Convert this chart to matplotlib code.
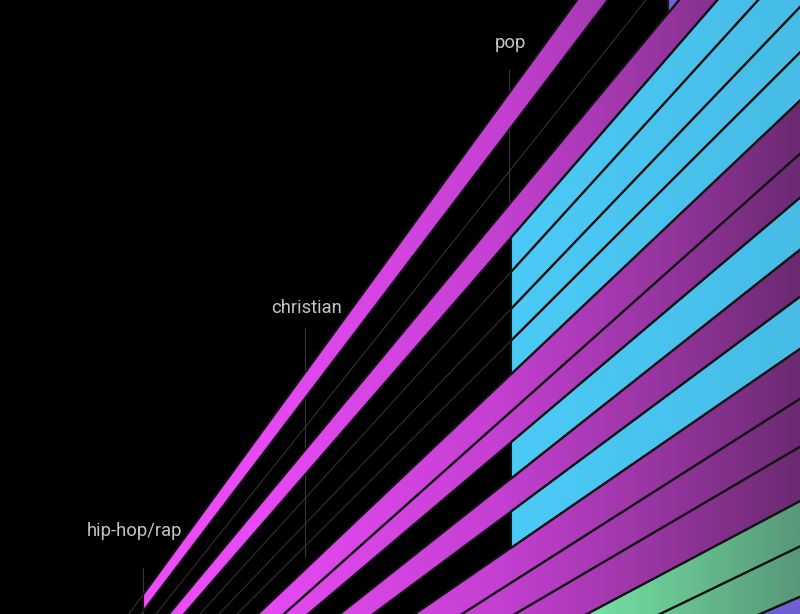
import numpy as np
import matplotlib.pyplot as plt
from matplotlib.patches import Polygon
from matplotlib.colors import LinearSegmentedColormap

W, H = 800, 614

# all band edges fan out from one point below the frame;
# each edge is given by where it crosses the bottom edge (y = 614)
fan_cx, fan_cy = -160, 1010
edge_x = [129, 141, 156, 169, 184, 200, 219, 237, 258, 284, 308, 340,
          373, 415, 462, 515, 587, 660, 760, 870]

# band i lies between edge i and edge i+1
band_hue = ['magenta', None, 'violet', 'magenta', 'cyan', 'cyan', 'cyan', 'cyan',
            'magenta', 'magenta', 'cyan', 'magenta', 'cyan', 'magenta', 'magenta',
            'magenta', 'green', 'green', 'violet']
band_start = [143, None, 668, -50, 511, 511, 511, 511, -50, -50, 511, -50, 511,
              -50, -50, -50, -50, -50, -50]

# genre markers
genres = ['hip-hop/rap', 'christian', 'pop']
genre_x = [143, 305, 509]
label_x = [135, 307, 510]
label_y = [531, 308, 43]
marker_top = [568, 328, 70]
marker_bot = [614, 557, 238]

hue_stops = {
    'magenta': [(0, '#f252ff'), (250, '#e84af5'), (500, '#c440d2'), (650, '#9a36a4'), (800, '#6c2a72')],
    'cyan': [(0, '#4dcdf9'), (500, '#4ccbf8'), (800, '#46bce6')],
    'green': [(0, '#80ecb4'), (600, '#74dea2'), (800, '#589878')],
    'violet': [(0, '#7e76ec'), (800, '#6c60d4')],
}
cmaps = {k: LinearSegmentedColormap.from_list(k, [(p / W, c) for p, c in v])
         for k, v in hue_stops.items()}


def edge_y(xb, x):
    slope = (H - fan_cy) / (xb - fan_cx)
    return H + slope * (np.asarray(x, dtype=float) - xb)


fig = plt.figure(figsize=(W / 100, H / 100), dpi=100, facecolor='black')
ax = fig.add_axes([0, 0, 1, 1])
ax.set_facecolor('black')
ax.axis('off')

# thin guide lines for every edge
for xb in edge_x:
    xx = np.array([fan_cx, 1000])
    ax.plot(xx, edge_y(xb, xx), color='#313131', lw=0.8, zorder=1)

# genre markers
for gx, t, b in zip(genre_x, marker_top, marker_bot):
    ax.plot([gx, gx], [t, b], color='#363636', lw=0.8, zorder=1)

grad = np.linspace(0, 1, 800).reshape(1, -1)
for i, hue in enumerate(band_hue):
    if hue is None:
        continue
    xs, xe = band_start[i], 1000
    up, lo = edge_x[i], edge_x[i + 1]
    verts = [(xs, edge_y(up, xs)), (xe, edge_y(up, xe)),
             (xe, edge_y(lo, xe)), (xs, edge_y(lo, xs))]
    poly = Polygon(verts, closed=True, facecolor='none', edgecolor='#141414',
                   lw=1.5, zorder=4)
    ax.add_patch(poly)
    im = ax.imshow(grad, cmap=cmaps[hue], extent=[0, W, H, 0], aspect='auto',
                   interpolation='bilinear', zorder=3)
    im.set_clip_path(poly)

for name, lx, ly in zip(genres, label_x, label_y):
    ax.text(lx, ly, name, color='#c4c4c4', fontsize=13.2, family='Roboto',
            ha='center', va='center', zorder=5)

ax.set_xlim(0, W)
ax.set_ylim(H, 0)
fig.savefig('out.png', dpi=100, facecolor='black')
